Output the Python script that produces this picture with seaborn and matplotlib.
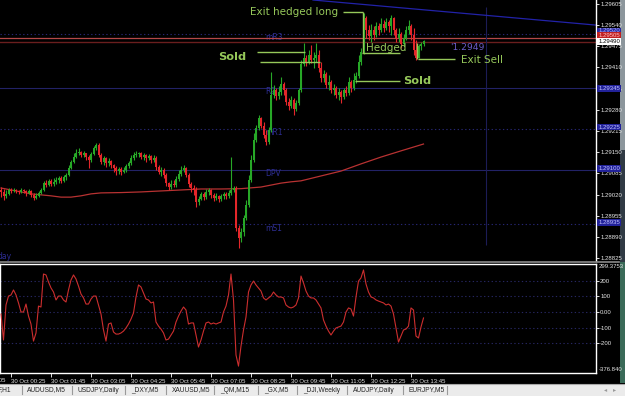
import matplotlib
matplotlib.use("Agg")
import matplotlib.pyplot as plt
from matplotlib.transforms import blended_transform_factory
from matplotlib.lines import Line2D
from matplotlib.patches import Rectangle
import numpy as np
import pandas as pd
import seaborn as sns

plt.rcParams['font.family'] = ['DejaVu Sans']
SMALL = ['Liberation Sans', 'DejaVu Sans']

# ---------------- data (EURUSD-like M5 bars) ----------------
first_open = 1.29034
closes = [
    1.29028, 1.29016, 1.29022, 1.29034, 1.29031, 1.29034, 1.29031, 1.29028, 1.29034, 1.29031,
    1.29025, 1.29031, 1.29019, 1.29009, 1.29016, 1.29025, 1.29034, 1.29055, 1.29049, 1.29062,
    1.29052, 1.29059, 1.29065, 1.29071, 1.29062, 1.29074, 1.29080, 1.29102, 1.29120, 1.29135,
    1.29148, 1.29151, 1.29141, 1.29148, 1.29135, 1.29126, 1.29144, 1.29163, 1.29172, 1.29141,
    1.29120, 1.29132, 1.29117, 1.29123, 1.29111, 1.29102, 1.29092, 1.29098, 1.29089, 1.29095,
    1.29108, 1.29117, 1.29132, 1.29141, 1.29144, 1.29148, 1.29135, 1.29141, 1.29132, 1.29138,
    1.29126, 1.29132, 1.29105, 1.29089, 1.29095, 1.29080, 1.29055, 1.29043, 1.29052, 1.29049,
    1.29068, 1.29083, 1.29095, 1.29102, 1.29080, 1.29052, 1.29040, 1.29034, 1.28997, 1.29006,
    1.29022, 1.29012, 1.29028, 1.29034, 1.29019, 1.29009, 1.29016, 1.29006, 1.29016, 1.29022,
    1.29016, 1.29025, 1.29034, 1.29040, 1.28917, 1.28886, 1.28905, 1.28948, 1.28988, 1.29065,
    1.29126, 1.29188, 1.29224, 1.29255, 1.29230, 1.29203, 1.29181, 1.29218, 1.29326, 1.29341,
    1.29323, 1.29335, 1.29359, 1.29341, 1.29304, 1.29292, 1.29310, 1.29283, 1.29301, 1.29341,
    1.29421, 1.29439, 1.29427, 1.29448, 1.29433, 1.29439, 1.29448, 1.29409, 1.29378, 1.29390,
    1.29356, 1.29366, 1.29341, 1.29347, 1.29326, 1.29335, 1.29320, 1.29341, 1.29332, 1.29366,
    1.29347, 1.29372, 1.29384, 1.29427, 1.29458, 1.29562, 1.29525, 1.29507, 1.29525, 1.29510,
    1.29538, 1.29525, 1.29544, 1.29531, 1.29550, 1.29538, 1.29562, 1.29525, 1.29501, 1.29513,
    1.29482, 1.29501, 1.29525, 1.29538, 1.29510, 1.29464, 1.29439, 1.29476, 1.29482, 1.29490,
]
highs = [
    1.29043, 1.29037, 1.29034, 1.29040, 1.29040, 1.29040, 1.29037, 1.29034, 1.29040, 1.29037,
    1.29034, 1.29037, 1.29034, 1.29025, 1.29025, 1.29031, 1.29040, 1.29062, 1.29065, 1.29068,
    1.29068, 1.29071, 1.29074, 1.29077, 1.29077, 1.29080, 1.29086, 1.29111, 1.29126, 1.29148,
    1.29160, 1.29163, 1.29154, 1.29154, 1.29148, 1.29141, 1.29151, 1.29169, 1.29178, 1.29178,
    1.29148, 1.29138, 1.29135, 1.29132, 1.29126, 1.29114, 1.29108, 1.29105, 1.29105, 1.29105,
    1.29114, 1.29123, 1.29141, 1.29151, 1.29154, 1.29151, 1.29151, 1.29148, 1.29144, 1.29144,
    1.29141, 1.29141, 1.29138, 1.29111, 1.29105, 1.29102, 1.29086, 1.29059, 1.29065, 1.29065,
    1.29077, 1.29095, 1.29108, 1.29111, 1.29105, 1.29086, 1.29059, 1.29049, 1.29043, 1.29016,
    1.29028, 1.29028, 1.29037, 1.29040, 1.29037, 1.29025, 1.29025, 1.29019, 1.29022, 1.29028,
    1.29028, 1.29034, 1.29135, 1.29046, 1.29046, 1.28926, 1.28917, 1.28957, 1.29003, 1.29080,
    1.29141, 1.29209, 1.29234, 1.29264, 1.29258, 1.29243, 1.29218, 1.29227, 1.29396, 1.29356,
    1.29347, 1.29353, 1.29381, 1.29366, 1.29347, 1.29316, 1.29323, 1.29316, 1.29310, 1.29347,
    1.29433, 1.29485, 1.29448, 1.29464, 1.29479, 1.29458, 1.29485, 1.29464, 1.29427, 1.29402,
    1.29396, 1.29387, 1.29372, 1.29359, 1.29353, 1.29347, 1.29341, 1.29347, 1.29353, 1.29381,
    1.29372, 1.29393, 1.29396, 1.29448, 1.29470, 1.29577, 1.29568, 1.29541, 1.29544, 1.29538,
    1.29550, 1.29547, 1.29562, 1.29556, 1.29562, 1.29556, 1.29571, 1.29565, 1.29531, 1.29531,
    1.29519, 1.29513, 1.29538, 1.29556, 1.29544, 1.29531, 1.29494, 1.29482, 1.29488, 1.29494,
]
lows = [
    1.29012, 1.29003, 1.29009, 1.29019, 1.29025, 1.29028, 1.29025, 1.29022, 1.29025, 1.29025,
    1.29016, 1.29022, 1.29012, 1.29003, 1.29006, 1.29012, 1.29022, 1.29031, 1.29043, 1.29046,
    1.29046, 1.29046, 1.29052, 1.29055, 1.29055, 1.29059, 1.29065, 1.29077, 1.29098, 1.29117,
    1.29132, 1.29141, 1.29135, 1.29135, 1.29126, 1.29102, 1.29120, 1.29141, 1.29157, 1.29135,
    1.29114, 1.29111, 1.29105, 1.29108, 1.29102, 1.29089, 1.29080, 1.29083, 1.29080, 1.29086,
    1.29089, 1.29102, 1.29111, 1.29126, 1.29135, 1.29135, 1.29129, 1.29126, 1.29120, 1.29126,
    1.29117, 1.29120, 1.29095, 1.29083, 1.29077, 1.29071, 1.29046, 1.29034, 1.29037, 1.29043,
    1.29043, 1.29062, 1.29077, 1.29089, 1.29074, 1.29043, 1.29028, 1.29019, 1.28982, 1.28988,
    1.29003, 1.29003, 1.29006, 1.29019, 1.29009, 1.29000, 1.29003, 1.28997, 1.29000, 1.29006,
    1.29006, 1.29009, 1.29019, 1.29028, 1.28908, 1.28856, 1.28874, 1.28892, 1.28942, 1.28982,
    1.29059, 1.29120, 1.29181, 1.29218, 1.29224, 1.29194, 1.29172, 1.29175, 1.29212, 1.29316,
    1.29310, 1.29313, 1.29326, 1.29326, 1.29295, 1.29280, 1.29286, 1.29264, 1.29277, 1.29295,
    1.29335, 1.29415, 1.29415, 1.29421, 1.29424, 1.29409, 1.29427, 1.29396, 1.29366, 1.29366,
    1.29347, 1.29341, 1.29332, 1.29326, 1.29316, 1.29310, 1.29301, 1.29313, 1.29323, 1.29326,
    1.29335, 1.29341, 1.29362, 1.29378, 1.29418, 1.29452, 1.29501, 1.29494, 1.29488, 1.29494,
    1.29504, 1.29510, 1.29519, 1.29519, 1.29525, 1.29519, 1.29510, 1.29510, 1.29488, 1.29488,
    1.29470, 1.29476, 1.29494, 1.29513, 1.29494, 1.29448, 1.29433, 1.29439, 1.29464, 1.29476,
]

ma_bar = [0, 4, 8, 12, 16, 20, 24, 28, 32, 36, 40, 48, 56, 64, 72, 80, 88, 96,
          104, 108, 112, 116, 120, 128, 136, 144, 152, 160, 169]
ma_price = [1.29040, 1.29034, 1.29028, 1.29022, 1.29019, 1.29016, 1.29012, 1.29012,
            1.29016, 1.29022, 1.29025, 1.29026, 1.29028, 1.29031, 1.29034, 1.29037,
            1.29037, 1.29038, 1.29043, 1.29049, 1.29055, 1.29059, 1.29062, 1.29077,
            1.29092, 1.29114, 1.29135, 1.29154, 1.29175]

cci = [
    -13, -179, 45, 102, 109, 141, 109, 58, 0, 0,
    51, -26, -77, -186, -134, 38, 32, 243, 237, 192,
    154, 128, 77, 102, 102, 77, 64, 141, 205, 237,
    211, 166, 115, 90, 51, 51, 83, 102, 102, 45,
    -13, -115, -186, -77, -70, -128, -141, -141, -134, -122,
    -102, -77, -45, -6, 96, 173, 160, 122, 83, 77,
    58, 64, -64, -90, -109, -134, -179, -173, -147, -122,
    -64, -26, 6, 32, 13, -77, -70, -70, -147, -224,
    -179, -122, -70, -64, -77, -70, -77, -70, -64, 0,
    38, 109, 243, 77, -275, -346, -218, -115, -32, 128,
    173, 198, 173, 154, 134, 90, 77, 90, 102, 128,
    109, 96, 96, 90, 45, 32, 26, 32, 45, 90,
    230, 186, 134, 102, 90, 90, 77, 51, 26, -51,
    -90, -122, -147, -122, -102, -96, -90, -64, 0, 26,
    19, -26, 96, 198, 218, 269, 179, 128, 96, 90,
    77, 70, 64, 58, 45, 51, 38, -13, -102, -192,
    -154, -115, -109, -90, 26, 13, -154, -166, -96, -38,
]

time_tick_bars = [4, 20, 36, 52, 68, 84, 100, 116, 132, 148, 164]
time_tick_labels = ["30 Oct 00:25", "30 Oct 01:45", "30 Oct 03:05", "30 Oct 04:25",
                    "30 Oct 05:45", "30 Oct 07:05", "30 Oct 08:25", "30 Oct 09:45",
                    "30 Oct 11:05", "30 Oct 12:25", "30 Oct 13:45"]
prev_time_label = "29 Oct 23:05"

price_ticks = [1.29605, 1.29540, 1.29475, 1.29410, 1.29345, 1.29280, 1.29215,
               1.29150, 1.29085, 1.29020, 1.28955, 1.28890, 1.28825]
cci_ticks = [200, 100, 0, -100, -200]
cci_tick_labels = ["200", "100", "0.00", "-100", "-200"]
cci_top_label, cci_bottom_label = "299.3753", "-376.840"

# pivot levels
level_names = ["mR3", "R2", "mR1", "DPV", "mS1"]
level_prices = [1.29513, 1.29347, 1.29221, 1.29095, 1.28929]
level_dotted = [True, False, True, False, True]
ask_line, bid_line = 1.29501, 1.29488

# green trade annotations: text, bar position, price
note_texts = ["Exit hedged long", "Sold", "Hedged", "Sold", "Exit Sell"]
note_bars = [99.6, 86.8, 146.0, 160.8, 184.0]
note_prices = [1.29580, 1.29442, 1.29470, 1.29368, 1.29433]
note_bold = [False, True, False, True, False]

tabs = ["F,H1", "AUDUSD,M5", "USDJPY,Daily", "_DXY,M5", "XAUUSD,M5", "_QM,M15",
        "_GX,M5", "_DJI,Weekly", "AUDJPY,Daily", "EURJPY,M5"]
tab_x = [-2, 27, 77, 131, 172, 220, 264, 303, 353, 408]
tab_sep_x = [22, 72, 125, 166, 214, 258, 297, 347, 403, 447]

# ---------------- figure ----------------
W, H = 625, 396
fig = plt.figure(figsize=(W / 100, H / 100), dpi=100, facecolor='black')

def fx(px):
    return px / W

def fy(py):
    return 1 - py / H

# right desktop strip (behind everything)
fig.patches.extend([
    Rectangle((fx(619.5), fy(150)), fx(6), 150 / H, transform=fig.transFigure,
              facecolor='#8c969c', edgecolor='none', zorder=-5),
    Rectangle((fx(619.5), fy(262)), fx(6), 112 / H, transform=fig.transFigure,
              facecolor='#303a44', edgecolor='none', zorder=-5),
    Rectangle((fx(619.5), fy(383)), fx(6), 121 / H, transform=fig.transFigure,
              facecolor='#3a6a58', edgecolor='none', zorder=-5),
])

ax = fig.add_axes([0, fy(261), fx(596), 261 / H])
ax2 = fig.add_axes([0, fy(373), fx(596), (373 - 264) / H])
for a in (ax, ax2):
    a.set_facecolor('black')
    a.set_xlim(-0.4, 238)
ax.set_ylim(1.28816, 1.29617)
ax2.set_ylim(-390, 307)

bull, bear = '#27a827', '#e4262a'
green_note = '#96c85a'
axis_txt = '#e6e6e6'
AX_FS = 4.3

# level lines
for name, p, dotted in zip(level_names, level_prices, level_dotted):
    ax.axhline(p, color='#262672' if dotted else '#222266', lw=0.8,
               ls=(0, (1.2, 2.2)) if dotted else '-', zorder=1)
    ax.text(105.6, p - 0.00012, name, color='#2e2e94', fontsize=5.5,
            va='center', ha='left', zorder=1)
ax.text(-1.5, 1.29617 - 256 * 0.0000307, "day", color='#2e2e94', fontsize=5.5,
        va='center', ha='left')
ax.axhline(ask_line, color='#b44848', lw=0.9, zorder=1)
ax.axhline(bid_line, color='#6a1e1e', lw=1.0, zorder=1)

# vertical marker and trendline
ax.vlines(194, 1.28865, 1.29596, color='#1c1c56', lw=0.8, zorder=1)
ax.plot([124.8, 238], [1.29617, 1.29540], color='#2222a8', lw=0.9, zorder=2)

# moving average (seaborn)
ma_df = pd.DataFrame({"bar": ma_bar, "price": ma_price})
sns.lineplot(data=ma_df, x="bar", y="price", ax=ax, color='#b83232', lw=0.9,
             legend=False, zorder=2)

# candles
idx = np.arange(len(closes))
o = np.array([first_open] + closes[:-1])
c = np.array(closes)
col = np.where(c >= o, bull, bear)
ax.vlines(idx, lows, highs, colors=col, lw=0.8, zorder=3)
ax.bar(idx, np.maximum(np.abs(c - o), 0.000015), bottom=np.minimum(o, c),
       width=0.7, color=col, linewidth=0, zorder=3)

# annotations
for t, b, p, bold in zip(note_texts, note_bars, note_prices, note_bold):
    ax.text(b, p, t, color=green_note, fontsize=8.2 if bold else 7.5,
            fontweight='bold' if bold else 'normal', va='center', ha='left', zorder=5)
seg_lw = 1.0
ax.hlines(1.29580, 136.8, 144.8, color=green_note, lw=seg_lw, zorder=5)
ax.vlines(144.8, 1.29454, 1.29580, color=green_note, lw=seg_lw, zorder=5)
ax.hlines(1.29454, 144.4, 159.6, color=green_note, lw=seg_lw, zorder=5)
ax.hlines(1.29457, 102.4, 121.6, color=green_note, lw=seg_lw, zorder=5)
ax.hlines(1.29427, 103.6, 127.6, color=green_note, lw=seg_lw, zorder=5)
ax.hlines(1.29368, 141.6, 159.6, color=green_note, lw=seg_lw, zorder=5)
ax.hlines(1.29436, 166.8, 181.6, color=green_note, lw=seg_lw, zorder=5)
ax.vlines(166.4, 1.29436, 1.29485, color=green_note, lw=seg_lw, zorder=5)
ax.text(179.6, 1.29470, "'1.2949", color='#6b5cc8', fontsize=6.6, va='center',
        ha='left', zorder=5)

# price axis
for s in ('top', 'left', 'bottom'):
    ax.spines[s].set_visible(False)
ax.spines['right'].set_color('white')
ax.spines['right'].set_linewidth(1.0)
ax.set_xticks([])
ax.yaxis.tick_right()
ax.set_yticks(price_ticks)
ax.set_yticklabels([f"{p:.5f}" for p in price_ticks], family=SMALL)
ax.tick_params(axis='y', colors='white', length=2, width=0.6, labelsize=AX_FS, pad=1.0,
               labelcolor=axis_txt)

tr = blended_transform_factory(ax.transAxes, ax.transData)
box_specs = [
    (1.29522, "1.29520", '#2a2aa0', '#b0b0ff'),
    (1.29507, "1.29505", '#c02020', '#ffc0c0'),
    (1.29490, "1.29490", 'white', 'black'),
    (1.29345, "1.29345", '#22229a', '#c0c0ff'),
    (1.29227, "1.29225", '#22229a', '#c0c0ff'),
    (1.29100, "1.29100", '#22229a', '#c0c0ff'),
    (1.28935, "1.28935", '#22229a', '#c0c0ff'),
]
for p, t, bg, fg in box_specs:
    ax.text(1.0035, p, t, transform=tr, fontsize=AX_FS, color=fg, va='center', ha='left',
            family=SMALL, clip_on=False, zorder=6,
            bbox=dict(boxstyle='square,pad=0.15', fc=bg, ec='none'))

# indicator panel
for v in cci_ticks:
    ax2.axhline(v, color='#262660', lw=0.8, ls=(0, (1.2, 2.2)), zorder=1)
cci_df = pd.DataFrame({"bar": idx, "cci": cci})
sns.lineplot(data=cci_df, x="bar", y="cci", ax=ax2, color='#cc2e2e', lw=0.8,
             legend=False, zorder=3)
for s in ax2.spines.values():
    s.set_color('white')
    s.set_linewidth(1.0)
ax2.yaxis.tick_right()
ax2.set_yticks(cci_ticks)
ax2.set_yticklabels(cci_tick_labels, family=SMALL)
ax2.tick_params(axis='y', colors='white', length=2, width=0.6, labelsize=AX_FS, pad=1.0,
                labelcolor=axis_txt)
tr2 = blended_transform_factory(ax2.transAxes, ax2.transData)
ax2.text(1.005, 292, cci_top_label, transform=tr2, fontsize=AX_FS, color=axis_txt,
         va='center', ha='left', family=SMALL, clip_on=False)
ax2.text(1.005, -368, cci_bottom_label, transform=tr2, fontsize=AX_FS, color=axis_txt,
         va='center', ha='left', family=SMALL, clip_on=False)
ax2.set_xticks(time_tick_bars)
ax2.set_xticklabels(time_tick_labels, ha='left', family=SMALL)
ax2.tick_params(axis='x', colors='white', length=3, width=0.6, labelsize=AX_FS, pad=1.0,
                labelcolor=axis_txt)
trx = blended_transform_factory(ax2.transData, ax2.transAxes)
ax2.text(-12, -0.045, prev_time_label, transform=trx, fontsize=AX_FS, color=axis_txt,
         va='top', ha='left', family=SMALL, clip_on=False)
ax2.set_xlabel("")
ax2.set_ylabel("")
ax.set_xlabel("")
ax.set_ylabel("")

# panel separator
fig.add_artist(Line2D([0, fx(619)], [fy(262.3)] * 2, color='#8a8a8a', lw=1.2))

# tab bar
fig.add_artist(Rectangle((0, 0), 1, 12.5 / H, transform=fig.transFigure,
                         facecolor='#ebebeb', edgecolor='none'))
fig.add_artist(Line2D([0, 1], [fy(383.5)] * 2, color='#a8a8a8', lw=0.8))
for t, x in zip(tabs, tab_x):
    fig.text(fx(x), fy(390), t, fontsize=4.8, color='#242424', va='center', ha='left',
             family=SMALL)
for x in tab_sep_x:
    fig.add_artist(Line2D([fx(x)] * 2, [fy(394), fy(386)], color='#9a9a9a', lw=0.8))
fig.text(fx(604), fy(390), "\u25c2", fontsize=4.5, color='#9a9a9a', va='center')
fig.text(fx(613), fy(390), "\u25b8", fontsize=4.5, color='#9a9a9a', va='center')

fig.savefig("out.png", dpi=100, facecolor='black')
